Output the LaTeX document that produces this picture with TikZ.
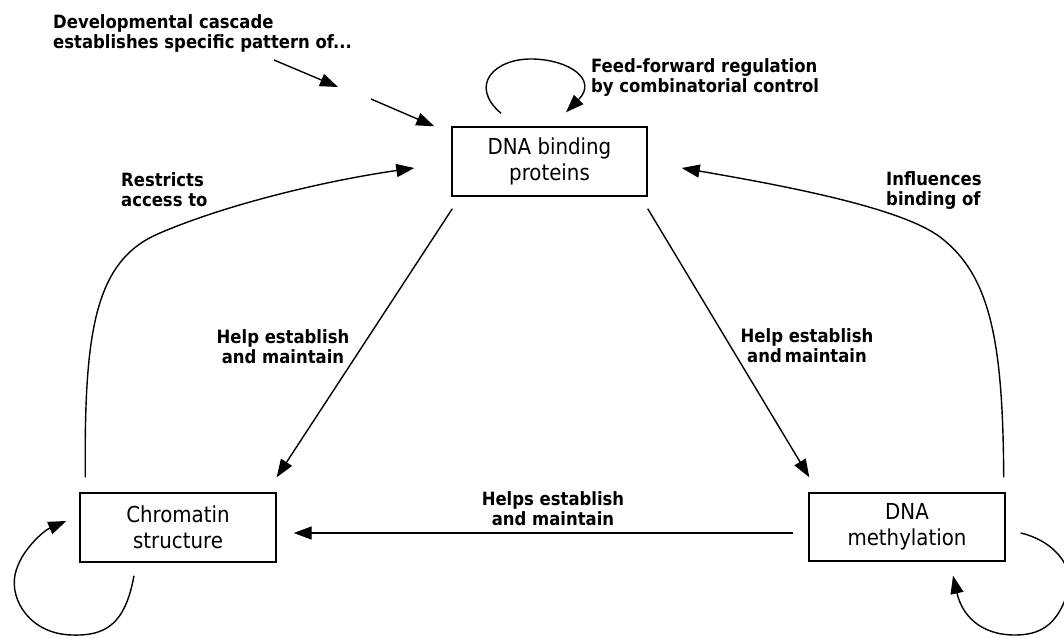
\documentclass[tikz,border=0pt]{standalone}
\usepackage{fontspec}
\setmainfont{DejaVu Sans Condensed}
\newfontfamily\lblfont{DejaVu Sans Condensed}[BoldFont={DejaVu Sans Condensed Bold}]
\usetikzlibrary{arrows.meta}
\begin{document}
\begin{tikzpicture}[x=1pt,y=-1pt,
  box/.style={draw,line width=1.4pt,minimum width=195pt,minimum height=69pt,inner sep=0pt,
    align=center,font=\fontsize{22}{26}\selectfont},
  lbl/.style={inner sep=0pt,font=\lblfont\bfseries\fontsize{18.3}{20.5}\selectfont},
  conn/.style={line width=1.4pt,-{Triangle[length=18pt,width=13pt]}},
  plain/.style={line width=1.4pt}]
\useasboundingbox (0,0) rectangle (1064,637);
\fill[white] (0,0) rectangle (1064,637);

\node[box] (dbp) at (549.5,161.5) {DNA binding\\proteins};
\node[box,minimum width=196pt] (chr) at (178,527.5) {Chromatin\\structure};
\node[box,minimum width=196pt,minimum height=68pt] (mth) at (907,527) {DNA\\methylation};

\node[lbl,anchor=north west,align=left] (dev) at (53,14) {Developmental cascade\\establishes specific pattern of...};
\node[lbl,anchor=north west,align=left] (ff) at (591,58) {Feed-forward regulation\\by combinatorial control};
\node[lbl,anchor=north west,align=left] (ra) at (121,172) {Restricts\\access to};
\node[lbl,anchor=north west,align=left] (ib) at (886,171) {Influences\\binding of};
\node[lbl,anchor=north,align=center] (hl) at (283,329) {Help establish\\and maintain};
\node[lbl,anchor=north,align=center] (hr) at (807,328) {Help establish\\and\,maintain};
\node[lbl,anchor=north,align=center] (hs) at (553,491) {Helps establish\\and maintain};

% developmental cascade arrows
\coordinate (d1) at (274,60);
\coordinate (d2) at (338,87);
\coordinate (d3) at (371,99);
\draw[conn] (d1) -- (d2);
\draw[conn] (d3) -- ([shift={(-17,0)}]dbp.north west);

% self loop on DNA binding proteins
\draw[conn] ([shift={(-48.5,-13)}]dbp.north) .. controls (468,85) and (495,58) .. (533,59)
  .. controls (570,60) and (598,80) .. ([shift={(16.5,-14)}]dbp.north);

% restricts access to
\draw[conn] ([shift={(6,-15)}]chr.north west) .. controls (84,330) and (95,260) .. (160,233)
  .. controls (230,203) and (330,180) .. ([shift={(-37,6.5)}]dbp.west);

% influences binding of
\draw[conn] ([shift={(-2,-15)}]mth.north east) .. controls (1003,340) and (990,275) .. (940,237)
  .. controls (900,207) and (780,185) .. ([shift={(34,6.5)}]dbp.east);

% help establish and maintain
\draw[conn] ([shift={(1,12)}]dbp.south west) -- ([shift={(0,-15)}]chr.north east);
\draw[conn] ([shift={(0,12)}]dbp.south east) -- ([shift={(1,-15)}]mth.north west);

% helps establish and maintain
\draw[conn] ([shift={(-15,6)}]mth.west) -- ([shift={(17,5.5)}]chr.east);

% chromatin self loop
\draw[conn] ([shift={(-44,13)}]chr.south) .. controls (125,625) and (105,636) .. (72,635)
  .. controls (30,634) and (10,600) .. (15,575)
  .. controls (20,550) and (45,530) .. ([shift={(-13,-6.5)}]chr.west);

% methylation self loop
\draw[conn] ([shift={(15,6)}]mth.east) .. controls (1055,541) and (1080,570) .. (1065,600)
  .. controls (1055,625) and (1040,635) .. (1015,635)
  .. controls (980,635) and (962,615) .. ([shift={(46,14)}]mth.south);
\end{tikzpicture}
\end{document}
